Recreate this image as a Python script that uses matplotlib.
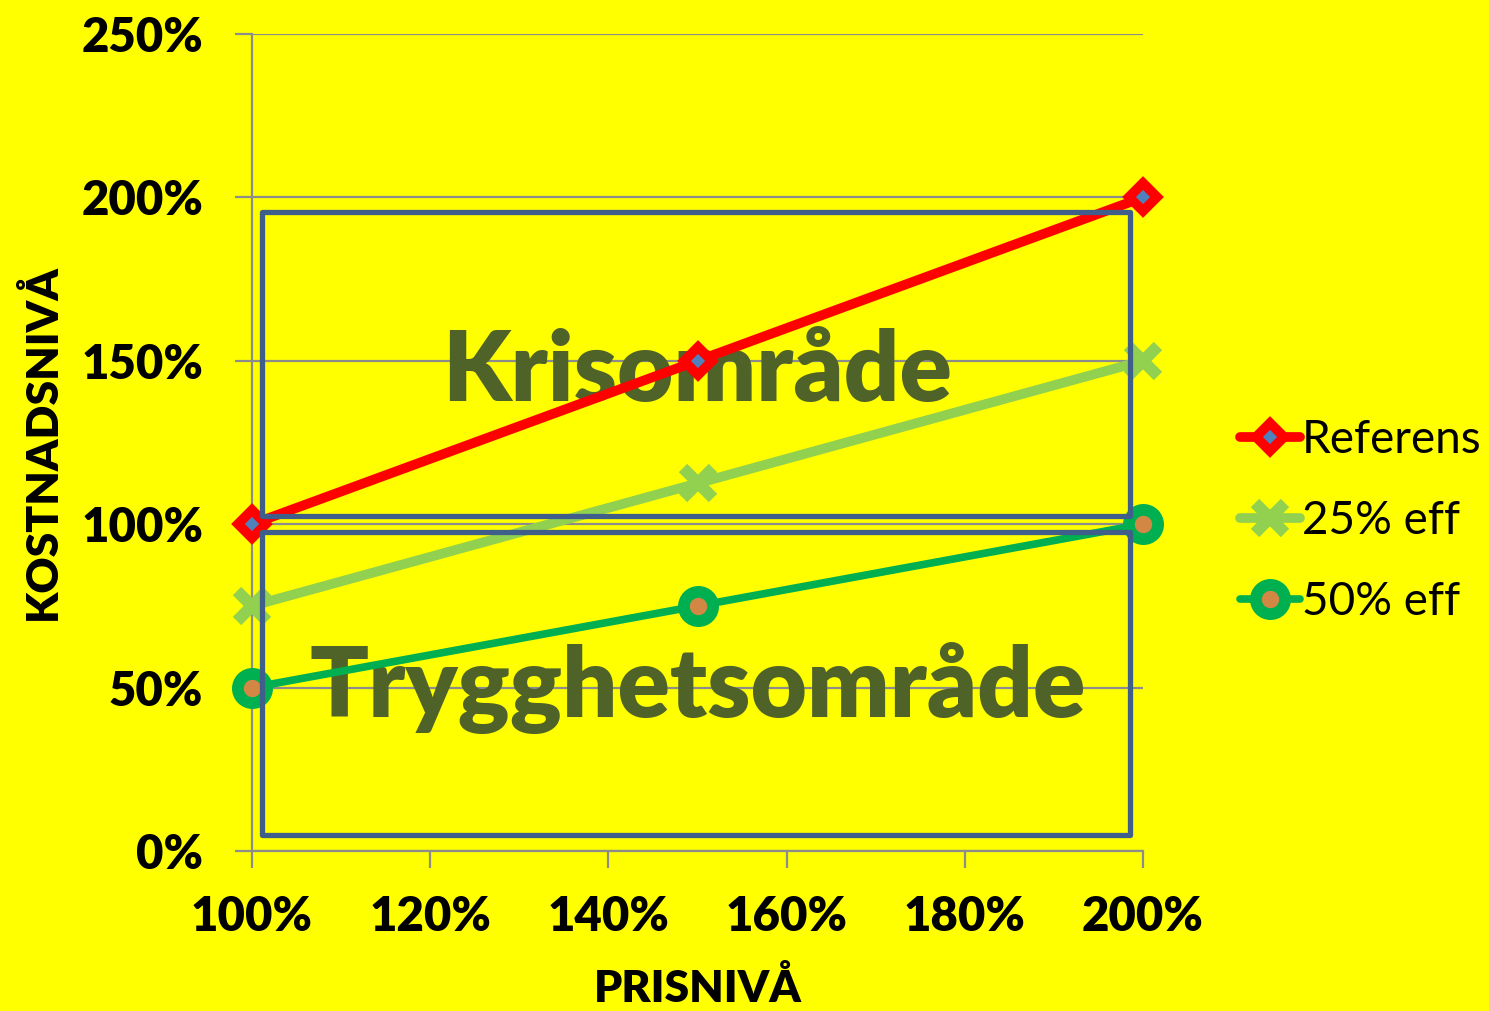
import matplotlib
matplotlib.use("Agg")
import matplotlib.pyplot as plt
from matplotlib.patches import Rectangle
from matplotlib.ticker import FuncFormatter

# Data
price_levels = [100, 150, 200]
referens = [100, 150, 200]
eff25 = [75, 112.5, 150]
eff50 = [50, 75, 100]
series_names = ["Referens", "25% eff", "50% eff"]
x_ticks = [100, 120, 140, 160, 180, 200]
y_ticks = [0, 50, 100, 150, 200, 250]
zones = [("Krisområde", 101.1, 102.5, 198.5, 195.5),
         ("Trygghetsområde", 101.1, 4.9, 198.5, 97.6)]
zone_text_y = [146.5, 50]

W, H = 1489, 1011
fig = plt.figure(figsize=(W / 100, H / 100), dpi=100)
fig.patch.set_facecolor("#FFFF00")
ax = fig.add_axes([252 / W, (H - 851) / H, (1143 - 252) / W, (851 - 34) / H])
ax.set_facecolor("#FFFF00")
ax.set_xlim(100, 200)
ax.set_ylim(0, 250)

grid_c = "#8C8C8C"
for s in ["top", "right"]:
    ax.spines[s].set_visible(False)
for s in ["left", "bottom"]:
    ax.spines[s].set_color(grid_c)
    ax.spines[s].set_linewidth(1.6)
ax.set_xticks(x_ticks)
ax.set_yticks(y_ticks)
ax.yaxis.grid(True, color=grid_c, linewidth=1.6)
ax.set_axisbelow(True)
ax.tick_params(axis="both", direction="out", length=12, width=1.6, color=grid_c)
fmt = FuncFormatter(lambda v, p: f"{int(v)}%")
ax.xaxis.set_major_formatter(fmt)
ax.yaxis.set_major_formatter(fmt)
for lab in ax.get_xticklabels() + ax.get_yticklabels():
    lab.set_fontfamily("Lato")
    lab.set_fontweight("heavy")
    lab.set_fontsize(34)
ax.tick_params(axis="x", pad=20)
ax.tick_params(axis="y", pad=23)

ax.set_xlabel("PRISNIVÅ", fontfamily="Lato", fontweight="heavy", fontsize=32)
ax.set_ylabel("KOSTNADSNIVÅ", fontfamily="Lato", fontweight="heavy", fontsize=32)
ax.xaxis.set_label_coords(0.5, -0.142)
ax.yaxis.set_label_coords(-0.212, 0.5)

# zone texts
text_c = "#4F6228"
for (name, x0, y0, x1, y1), ty in zip(zones, zone_text_y):
    ax.text(150, ty, name, ha="center", va="center", fontfamily="Lato",
            fontweight="heavy", fontsize=70, color=text_c, zorder=1)

l1, = ax.plot(price_levels, referens, color="#FF0000", lw=7, marker="D", ms=14,
              mfc="#4F81BD", mec="#FF0000", mew=7, clip_on=False, zorder=3,
              solid_capstyle="round", label=series_names[0])
l2, = ax.plot(price_levels, eff25, color="#92D050", lw=7, marker="x", ms=22,
              mec="#92D050", mew=8.5, clip_on=False, zorder=3,
              solid_capstyle="round", label=series_names[1])
l3, = ax.plot(price_levels, eff50, color="#00B050", lw=5.5, marker="o", ms=21,
              mfc="#D38744", mec="#00B050", mew=8.5, clip_on=False, zorder=3,
              solid_capstyle="round", label=series_names[2])

for name, x0, y0, x1, y1 in zones:
    ax.add_patch(Rectangle((x0, y0), x1 - x0, y1 - y0, fill=False,
                           edgecolor="#3F5F8A", lw=3.8, zorder=4,
                           joinstyle="round", clip_on=False))

leg = fig.legend(handles=[l1, l2, l3], loc="center left",
                 bbox_to_anchor=(1240 / W, 1 - 521 / H), frameon=False,
                 prop={"family": "Lato", "size": 33}, handlelength=1.3,
                 handletextpad=0.05, labelspacing=0.85, borderpad=0,
                 borderaxespad=0)

fig.savefig("out.png", dpi=100, facecolor=fig.get_facecolor())
